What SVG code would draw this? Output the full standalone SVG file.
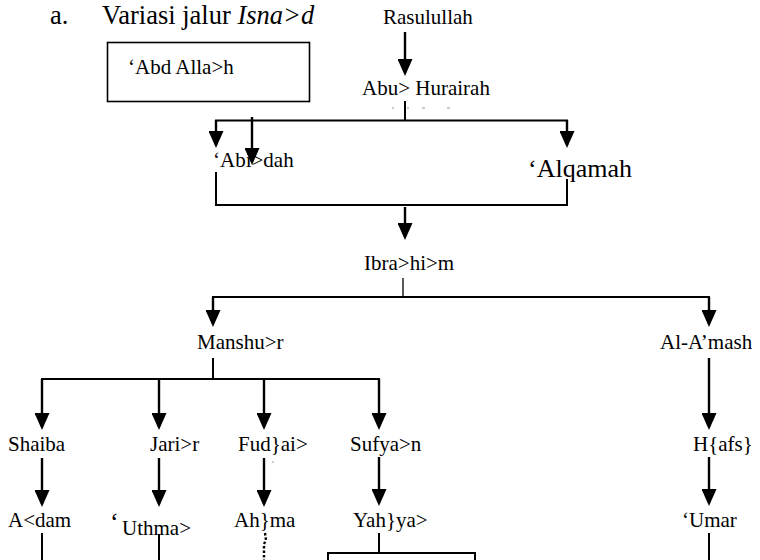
<svg xmlns="http://www.w3.org/2000/svg" width="760" height="560" viewBox="0 0 760 560">
<style>
text{font-family:"Liberation Serif","Times New Roman",serif;fill:#000;font-size:21px}
.t{font-size:26.5px}
.big{font-size:26px}
.ln{stroke:#000;stroke-width:2;fill:none}
.thin{stroke:#000;stroke-width:1.3;fill:none}
.ar{stroke:#000;stroke-width:2.4;fill:none;marker-end:url(#ah)}
.dash{stroke:#999;stroke-width:1}
</style>
<defs>
<marker id="ah" markerUnits="userSpaceOnUse" markerWidth="17" markerHeight="15" viewBox="0 0 17 15" refX="14" refY="7.5" orient="auto">
<path d="M0,0 L17,7.5 L0,15 z" fill="#000"/>
</marker>
</defs>
<rect width="760" height="560" fill="#fff"/>
<g id="title">
<text class="t" x="50" y="24">a.</text>
<text class="t" x="102" y="24">Variasi jalur <tspan font-style="italic">Isna&gt;d</tspan></text>
</g>
<g id="abdallah">
<rect x="107.5" y="42.5" width="202" height="59" fill="none" stroke="#000" stroke-width="1.6"/>
<text x="128" y="74">‘Abd Alla&gt;h</text>
</g>
<g id="rasulullah"><text x="383" y="24">Rasulullah</text></g>
<g id="abuhurairah"><text x="362" y="95">Abu&gt; Hurairah</text></g>
<g id="abidah"><text x="213" y="167">‘Abi&gt;dah</text></g>
<g id="alqamah"><text class="big" x="528" y="177">‘Alqamah</text></g>
<g id="ibrahim"><text x="364" y="270">Ibra&gt;hi&gt;m</text></g>
<g id="manshur"><text x="197" y="349">Manshu&gt;r</text></g>
<g id="alamash"><text x="660" y="349">Al-A’mash</text></g>
<g id="shaiba"><text x="8" y="451">Shaiba</text></g>
<g id="jarir"><text x="150" y="451">Jari&gt;r</text></g>
<g id="fudai"><text x="238" y="451">Fud}ai&gt;</text></g>
<g id="sufyan"><text x="350" y="451">Sufya&gt;n</text></g>
<g id="hafs"><text x="693" y="451">H{afs}</text></g>
<g id="adam"><text x="8" y="527">A&lt;dam</text></g>
<g id="uthman"><text class="big" x="110" y="530">‘</text><text x="122" y="535">Uthma&gt;</text></g>
<g id="ahma"><text x="234" y="527">Ah}ma</text></g>
<g id="yahya"><text x="353" y="527">Yah}ya&gt;</text></g>
<g id="umar"><text x="682" y="527">‘Umar</text></g>
<g id="connectors">
<line class="ar" x1="405" y1="32" x2="405" y2="73"/>
<line class="dash" x1="392" y1="108" x2="394" y2="108"/>
<line class="dash" x1="407" y1="108" x2="409" y2="108"/>
<line class="dash" x1="422" y1="108" x2="425" y2="108"/>
<line class="dash" x1="447" y1="108" x2="450" y2="108"/>
<line class="ln" x1="405" y1="101" x2="405" y2="120.5"/>
<line class="ln" x1="215" y1="120.5" x2="568" y2="120.5"/>
<line class="ar" x1="216" y1="120" x2="216" y2="145"/>
<line class="ar" x1="567" y1="120" x2="567" y2="145"/>
<line class="ar" x1="252" y1="117" x2="252" y2="162"/>
<polyline class="ln" points="216,172 216,205 567,205 567,179"/>
<line class="ar" x1="405" y1="207" x2="405" y2="237"/>
<line class="thin" x1="403" y1="278" x2="403" y2="297"/>
<line class="ln" x1="212" y1="297" x2="710" y2="297"/>
<line class="ar" x1="213" y1="297" x2="213" y2="324"/>
<line class="ar" x1="709" y1="297" x2="709" y2="324"/>
<line class="ln" x1="213" y1="358" x2="213" y2="379"/>
<line class="ln" x1="41" y1="379" x2="380" y2="379"/>
<line class="ar" x1="42" y1="379" x2="42" y2="427"/>
<line class="ar" x1="159" y1="379" x2="159" y2="427"/>
<line class="ar" x1="264" y1="379" x2="264" y2="427"/>
<line class="ar" x1="379" y1="379" x2="379" y2="427"/>
<line class="ar" x1="709" y1="358" x2="709" y2="427"/>
<line class="ar" x1="42" y1="458" x2="42" y2="504"/>
<line class="ar" x1="159" y1="458" x2="159" y2="504"/>
<line class="ar" x1="264" y1="458" x2="264" y2="504"/>
<line class="ar" x1="379" y1="457" x2="379" y2="503"/>
<line class="ar" x1="709" y1="457" x2="709" y2="503"/>
<line class="dash" x1="272" y1="462" x2="274" y2="462" stroke="#333"/>
<line class="ln" x1="42" y1="533" x2="42" y2="560"/>
<line class="ln" x1="159" y1="534" x2="159" y2="560"/>
<path d="M265,533 L266,540 L264,544 L264,560" fill="none" stroke="#000" stroke-width="2.4" stroke-dasharray="2.5,2"/>
<line class="ln" x1="379" y1="533" x2="379" y2="553"/>
<polyline class="ln" points="328,560 328,553 475,553 475,560"/>
<line class="ln" x1="709" y1="533" x2="709" y2="560"/>
</g>
</svg>
